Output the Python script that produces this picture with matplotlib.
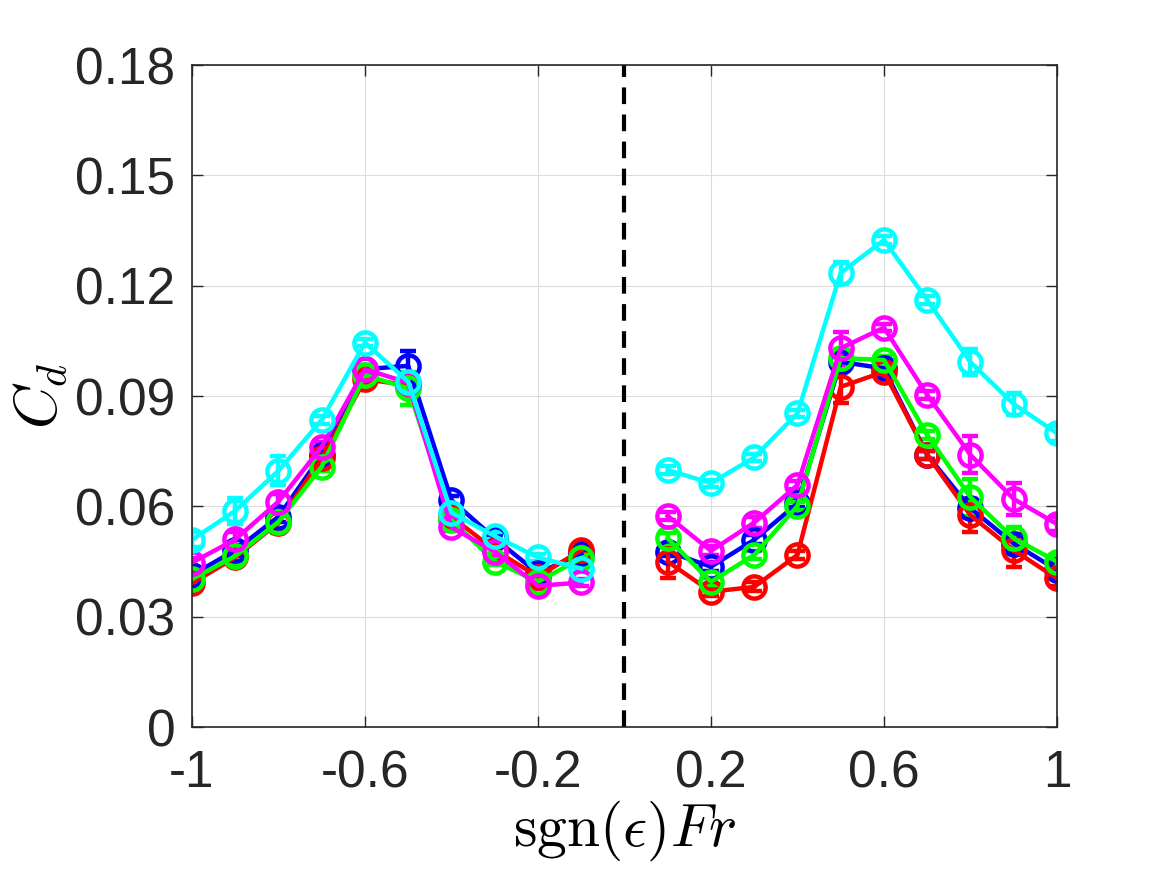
import matplotlib
matplotlib.use("Agg")
import matplotlib.pyplot as plt
import numpy as np

x_neg = [-1.0, -0.9, -0.8, -0.7, -0.6, -0.5, -0.4, -0.3, -0.2, -0.1]
x_pos = [0.1, 0.2, 0.3, 0.4, 0.5, 0.6, 0.7, 0.8, 0.9, 1.0]

blue_neg = [0.0413, 0.0481, 0.0572, 0.0740, 0.0973, 0.0982, 0.0617, 0.0513, 0.0418, 0.0472]
blue_pos = [0.0477, 0.0436, 0.0509, 0.0608, 0.0993, 0.0975, 0.0740, 0.0595, 0.0499, 0.0427]
red_neg = [0.0391, 0.0461, 0.0556, 0.0731, 0.0945, 0.0930, 0.0572, 0.0481, 0.0409, 0.0481]
red_pos = [0.0450, 0.0368, 0.0381, 0.0468, 0.0925, 0.0966, 0.0740, 0.0576, 0.0481, 0.0404]
green_neg = [0.0402, 0.0465, 0.0558, 0.0708, 0.0957, 0.0921, 0.0563, 0.0450, 0.0395, 0.0459]
green_pos = [0.0513, 0.0395, 0.0468, 0.0601, 0.1003, 0.0998, 0.0794, 0.0625, 0.0513, 0.0450]
magenta_neg = [0.0447, 0.0510, 0.0613, 0.0762, 0.0973, 0.0936, 0.0543, 0.0477, 0.0384, 0.0393]
magenta_pos = [0.0574, 0.0479, 0.0556, 0.0658, 0.1030, 0.1086, 0.0903, 0.0740, 0.0620, 0.0552]
cyan_neg = [0.0509, 0.0588, 0.0697, 0.0835, 0.1045, 0.0939, 0.0583, 0.0519, 0.0461, 0.0431]
cyan_pos = [0.0699, 0.0663, 0.0733, 0.0853, 0.1235, 0.1324, 0.1161, 0.0992, 0.0878, 0.0799]

blue_err_neg = [0.0015, 0.0015, 0.0015, 0.0010, 0.0010, 0.0040, 0.0012, 0.0010, 0.0010, 0.0010]
blue_err_pos = [0.0012, 0.0012, 0.0012, 0.0010, 0.0020, 0.0010, 0.0010, 0.0025, 0.0020, 0.0015]
red_err_neg = [0.0020, 0.0020, 0.0025, 0.0012, 0.0010, 0.0015, 0.0012, 0.0010, 0.0010, 0.0010]
red_err_pos = [0.0045, 0.0012, 0.0012, 0.0010, 0.0044, 0.0010, 0.0010, 0.0045, 0.0045, 0.0020]
green_err_neg = [0.0015, 0.0020, 0.0030, 0.0012, 0.0010, 0.0045, 0.0012, 0.0010, 0.0010, 0.0010]
green_err_pos = [0.0015, 0.0010, 0.0010, 0.0010, 0.0025, 0.0010, 0.0010, 0.0050, 0.0030, 0.0015]
magenta_err_neg = [0.0012, 0.0020, 0.0020, 0.0012, 0.0010, 0.0015, 0.0010, 0.0010, 0.0010, 0.0010]
magenta_err_pos = [0.0012, 0.0012, 0.0015, 0.0010, 0.0045, 0.0010, 0.0010, 0.0050, 0.0044, 0.0020]
cyan_err_neg = [0.0020, 0.0035, 0.0040, 0.0012, 0.0010, 0.0020, 0.0010, 0.0010, 0.0010, 0.0010]
cyan_err_pos = [0.0010, 0.0010, 0.0010, 0.0010, 0.0030, 0.0010, 0.0010, 0.0035, 0.0030, 0.0020]

x_ticks = [-1, -0.6, -0.2, 0.2, 0.6, 1]
x_tick_labels = ["-1", "-0.6", "-0.2", "0.2", "0.6", "1"]
y_ticks = [0, 0.03, 0.06, 0.09, 0.12, 0.15, 0.18]
y_tick_labels = ["0", "0.03", "0.06", "0.09", "0.12", "0.15", "0.18"]

series = [
    ("#0000ff", blue_neg, blue_pos, blue_err_neg, blue_err_pos),
    ("#ff0000", red_neg, red_pos, red_err_neg, red_err_pos),
    ("#00ff00", green_neg, green_pos, green_err_neg, green_err_pos),
    ("#ff00ff", magenta_neg, magenta_pos, magenta_err_neg, magenta_err_pos),
    ("#00ffff", cyan_neg, cyan_pos, cyan_err_neg, cyan_err_pos),
]

plt.rcParams['font.family'] = ['Liberation Sans', 'DejaVu Sans']
plt.rcParams['mathtext.fontset'] = 'cm'

fig = plt.figure(figsize=(11.67, 8.75), dpi=100)
ax = fig.add_axes([0.1645, 0.1691, 0.7412, 0.7566])

for color, yn, yp, en, ep in series:
    for xs, ys, es in ((x_neg, yn, en), (x_pos, yp, ep)):
        ax.errorbar(xs, ys, yerr=es, color=color, lw=3.2, marker='o',
                    markersize=16, markerfacecolor='none', markeredgewidth=3.2,
                    capsize=6, capthick=3.2, elinewidth=3.2)

ax.axvline(0, color='black', lw=3, ls=(0, (4, 2.5)))

ax.set_xlim(-1, 1)
ax.set_ylim(0, 0.18)
ax.set_xticks(x_ticks)
ax.set_xticklabels(x_tick_labels)
ax.set_yticks(y_ticks)
ax.set_yticklabels(y_tick_labels)
ax.grid(True, color='#dcdcdc', lw=0.8)
ax.set_axisbelow(True)
ax.tick_params(direction='in', length=8, width=1, top=True, right=True,
               labelsize=37, labelcolor='#262626', colors='#262626')
ax.tick_params(axis='x', pad=16)
ax.tick_params(axis='y', pad=12)
for sp in ax.spines.values():
    sp.set_color('#262626')
    sp.set_linewidth(1.2)

ax.set_xlabel(r'$\mathrm{sgn}(\epsilon)Fr$', fontsize=43, labelpad=0)
ax.set_ylabel(r'$C_d$', fontsize=43, labelpad=4)

fig.savefig('out.png', dpi=100)
